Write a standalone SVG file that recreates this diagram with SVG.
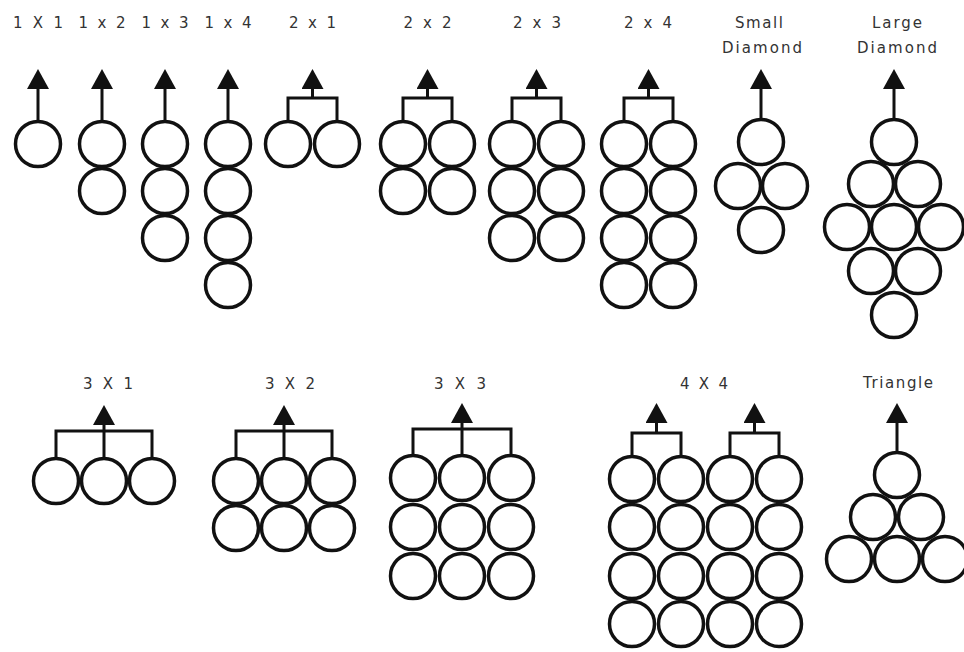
<svg xmlns="http://www.w3.org/2000/svg" width="964" height="652" viewBox="0 0 964 652">
<style>
.c{fill:#fff;stroke:#111;stroke-width:3.5}
.l{fill:none;stroke:#111;stroke-width:3}
.t{font-family:"DejaVu Sans","Liberation Sans",Arial,sans-serif;font-size:15px;fill:#333;text-anchor:middle}
</style>
<defs>
<marker id="ah" markerUnits="userSpaceOnUse" viewBox="0 -11 20 22" refX="0" refY="0" markerWidth="20" markerHeight="22" orient="auto">
<path d="M0,-11 L20,0 L0,11 z" fill="#111"/>
</marker>
</defs>
<rect width="964" height="652" fill="#fff"/>

<g id="n1x1">
<text class="t" x="38" y="28" textLength="50" lengthAdjust="spacing">1 X 1</text>
<circle class="c" cx="38" cy="144" r="22.5"/>
</g>
<g id="n1x2">
<text class="t" x="102" y="28" textLength="47" lengthAdjust="spacing">1 x 2</text>
<circle class="c" cx="102" cy="144" r="22.5"/><circle class="c" cx="102" cy="191" r="22.5"/>
</g>
<g id="n1x3">
<text class="t" x="165" y="28" textLength="47" lengthAdjust="spacing">1 x 3</text>
<circle class="c" cx="165" cy="144" r="22.5"/><circle class="c" cx="165" cy="191" r="22.5"/><circle class="c" cx="165" cy="238" r="22.5"/>
</g>
<g id="n1x4">
<text class="t" x="228" y="28" textLength="47" lengthAdjust="spacing">1 x 4</text>
<circle class="c" cx="228" cy="144" r="22.5"/><circle class="c" cx="228" cy="191" r="22.5"/><circle class="c" cx="228" cy="238" r="22.5"/><circle class="c" cx="228" cy="285" r="22.5"/>
</g>
<g id="n2x1">
<text class="t" x="312.5" y="28" textLength="47" lengthAdjust="spacing">2 x 1</text>
<circle class="c" cx="288" cy="144" r="22.5"/><circle class="c" cx="337" cy="144" r="22.5"/>
</g>
<g id="n2x2">
<text class="t" x="427.5" y="28" textLength="48" lengthAdjust="spacing">2 x 2</text>
<circle class="c" cx="403" cy="144" r="22.5"/><circle class="c" cx="452" cy="144" r="22.5"/>
<circle class="c" cx="403" cy="191" r="22.5"/><circle class="c" cx="452" cy="191" r="22.5"/>
</g>
<g id="n2x3">
<text class="t" x="537" y="28" textLength="48" lengthAdjust="spacing">2 x 3</text>
<circle class="c" cx="512" cy="144" r="22.5"/><circle class="c" cx="561" cy="144" r="22.5"/>
<circle class="c" cx="512" cy="191" r="22.5"/><circle class="c" cx="561" cy="191" r="22.5"/>
<circle class="c" cx="512" cy="238" r="22.5"/><circle class="c" cx="561" cy="238" r="22.5"/>
</g>
<g id="n2x4">
<text class="t" x="648" y="28" textLength="48" lengthAdjust="spacing">2 x 4</text>
<circle class="c" cx="624" cy="144" r="22.5"/><circle class="c" cx="673" cy="144" r="22.5"/>
<circle class="c" cx="624" cy="191" r="22.5"/><circle class="c" cx="673" cy="191" r="22.5"/>
<circle class="c" cx="624" cy="238" r="22.5"/><circle class="c" cx="673" cy="238" r="22.5"/>
<circle class="c" cx="624" cy="285" r="22.5"/><circle class="c" cx="673" cy="285" r="22.5"/>
</g>
<g id="nSmallDiamond">
<text class="t" x="759" y="28" textLength="48" lengthAdjust="spacing">Small</text>
<text class="t" x="762" y="53" textLength="80" lengthAdjust="spacing">Diamond</text>
<circle class="c" cx="761" cy="142" r="22.5"/>
<circle class="c" cx="738" cy="186" r="22.5"/><circle class="c" cx="785" cy="186" r="22.5"/>
<circle class="c" cx="761" cy="230" r="22.5"/>
</g>
<g id="nLargeDiamond">
<text class="t" x="897" y="28" textLength="50" lengthAdjust="spacing">Large</text>
<text class="t" x="897" y="53" textLength="80" lengthAdjust="spacing">Diamond</text>
<circle class="c" cx="894" cy="142" r="22.5"/>
<circle class="c" cx="871" cy="184" r="22.5"/><circle class="c" cx="918" cy="184" r="22.5"/>
<circle class="c" cx="847" cy="227" r="22.5"/><circle class="c" cx="894" cy="227" r="22.5"/><circle class="c" cx="941" cy="227" r="22.5"/>
<circle class="c" cx="871" cy="271" r="22.5"/><circle class="c" cx="918" cy="271" r="22.5"/>
<circle class="c" cx="894" cy="315" r="22.5"/>
</g>

<g id="n3x1">
<text class="t" x="108" y="389" textLength="50" lengthAdjust="spacing">3 X 1</text>
<circle class="c" cx="56" cy="481" r="22.5"/><circle class="c" cx="104" cy="481" r="22.5"/><circle class="c" cx="152" cy="481" r="22.5"/>
</g>
<g id="n3x2">
<text class="t" x="290" y="389" textLength="50" lengthAdjust="spacing">3 X 2</text>
<circle class="c" cx="236" cy="481" r="22.5"/><circle class="c" cx="284" cy="481" r="22.5"/><circle class="c" cx="332" cy="481" r="22.5"/>
<circle class="c" cx="236" cy="528" r="22.5"/><circle class="c" cx="284" cy="528" r="22.5"/><circle class="c" cx="332" cy="528" r="22.5"/>
</g>
<g id="n3x3">
<text class="t" x="460" y="389" textLength="52" lengthAdjust="spacing">3 X 3</text>
<circle class="c" cx="413" cy="478" r="22.5"/><circle class="c" cx="462" cy="478" r="22.5"/><circle class="c" cx="511" cy="478" r="22.5"/>
<circle class="c" cx="413" cy="527" r="22.5"/><circle class="c" cx="462" cy="527" r="22.5"/><circle class="c" cx="511" cy="527" r="22.5"/>
<circle class="c" cx="413" cy="576" r="22.5"/><circle class="c" cx="462" cy="576" r="22.5"/><circle class="c" cx="511" cy="576" r="22.5"/>
</g>
<g id="n4x4">
<text class="t" x="704" y="389" textLength="48" lengthAdjust="spacing">4 X 4</text>
<circle class="c" cx="632" cy="479" r="22.5"/><circle class="c" cx="681" cy="479" r="22.5"/><circle class="c" cx="730" cy="479" r="22.5"/><circle class="c" cx="779" cy="479" r="22.5"/>
<circle class="c" cx="632" cy="527" r="22.5"/><circle class="c" cx="681" cy="527" r="22.5"/><circle class="c" cx="730" cy="527" r="22.5"/><circle class="c" cx="779" cy="527" r="22.5"/>
<circle class="c" cx="632" cy="576" r="22.5"/><circle class="c" cx="681" cy="576" r="22.5"/><circle class="c" cx="730" cy="576" r="22.5"/><circle class="c" cx="779" cy="576" r="22.5"/>
<circle class="c" cx="632" cy="624" r="22.5"/><circle class="c" cx="681" cy="624" r="22.5"/><circle class="c" cx="730" cy="624" r="22.5"/><circle class="c" cx="779" cy="624" r="22.5"/>
</g>
<g id="nTriangle">
<text class="t" x="898" y="388" textLength="70" lengthAdjust="spacing">Triangle</text>
<circle class="c" cx="897" cy="475" r="22.5"/>
<circle class="c" cx="873" cy="517" r="22.5"/><circle class="c" cx="921" cy="517" r="22.5"/>
<circle class="c" cx="849" cy="559" r="22.5"/><circle class="c" cx="897" cy="559" r="22.5"/><circle class="c" cx="945" cy="559" r="22.5"/>
</g>

<g id="connectors">
<path class="l" d="M38,120 V89" marker-end="url(#ah)"/>
<path class="l" d="M102,120 V89" marker-end="url(#ah)"/>
<path class="l" d="M165,120 V89" marker-end="url(#ah)"/>
<path class="l" d="M228,120 V89" marker-end="url(#ah)"/>
<path class="l" d="M288,120 V98 H337 V120"/>
<path class="l" d="M312.5,98 V89" marker-end="url(#ah)"/>
<path class="l" d="M403,120 V98 H452 V120"/>
<path class="l" d="M427.5,98 V89" marker-end="url(#ah)"/>
<path class="l" d="M512,120 V98 H561 V120"/>
<path class="l" d="M536.5,98 V89" marker-end="url(#ah)"/>
<path class="l" d="M624,120 V98 H673 V120"/>
<path class="l" d="M648.5,98 V89" marker-end="url(#ah)"/>
<path class="l" d="M761,118 V89" marker-end="url(#ah)"/>
<path class="l" d="M894,118 V89" marker-end="url(#ah)"/>

<path class="l" d="M56,457 V431 H152 V457"/>
<path class="l" d="M104,457 V425" marker-end="url(#ah)"/>
<path class="l" d="M236,457 V431 H332 V457"/>
<path class="l" d="M284,457 V425" marker-end="url(#ah)"/>
<path class="l" d="M413,454 V429 H511 V454"/>
<path class="l" d="M462,454 V423" marker-end="url(#ah)"/>
<path class="l" d="M632,455 V433 H681 V455"/>
<path class="l" d="M656.5,433 V423" marker-end="url(#ah)"/>
<path class="l" d="M730,455 V433 H779 V455"/>
<path class="l" d="M754.5,433 V423" marker-end="url(#ah)"/>
<path class="l" d="M897,451 V423" marker-end="url(#ah)"/>
</g>
</svg>
